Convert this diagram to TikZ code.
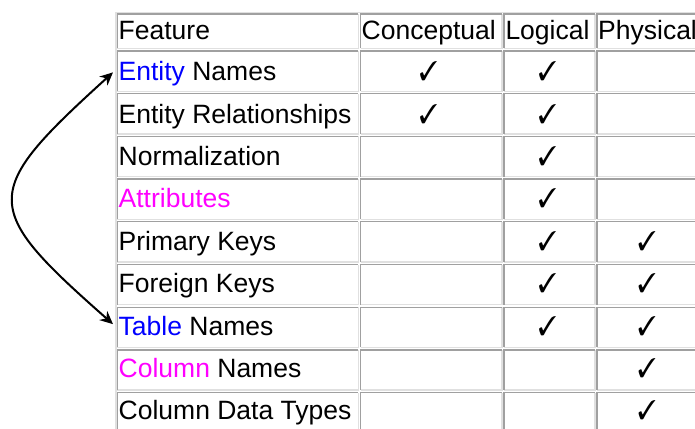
\documentclass[tikz,border=0pt]{standalone}
\usepackage{fontspec}
\setmainfont{Liberation Sans}
\usepackage{pifont}
\usetikzlibrary{arrows.meta}
\definecolor{bdark}{HTML}{A0A0A0}
\definecolor{blight}{HTML}{E0E0E0}
\definecolor{linkblue}{HTML}{0000FF}
\definecolor{mag}{HTML}{FF00FF}
\newcommand\cellbox[4]{%
  \draw[blight, line width=1.3pt] (#1,#4) -- (#3,#4) -- (#3,#2);
  \draw[bdark, line width=1.3pt] (#1,#4) -- (#1,#2) -- (#3,#2);}
\begin{document}
\begin{tikzpicture}[x=1pt,y=-1pt,
  txt/.style={anchor=base west,inner sep=0pt,font=\fontsize{26.5}{30}\selectfont},
  chk/.style={anchor=base,inner sep=0pt,font=\fontsize{27}{30}\selectfont,xscale=0.9},
  link/.style={line width=2pt,{Stealth[length=13pt,width=12pt]}-{Stealth[length=13pt,width=12pt]}}]
\useasboundingbox[fill=white] (0,0) rectangle (695,428);
% outer table border
\draw[blight, line width=1.3pt] (116,440) -- (116,12.7) -- (700,12.7);
% cells
\foreach \l/\r in {117.3/358.3, 360.7/502, 504/595, 597/699}{
  \cellbox{\l}{14}{\r}{48.5}
  \foreach \k in {0,...,8}{
    \pgfmathsetmacro\tp{51+42.7*\k}
    \pgfmathsetmacro\bt{51+42.7*(\k+1)-2.5}
    \cellbox{\l}{\tp}{\r}{\bt}
  }
}
% header texts
\node[txt] (hf) at (118.5,39.3) {Feature};
\node[txt] (hc) at (361.5,39.3) {Conceptual};
\node[txt] (hl) at (505.3,39.3) {Logical};
\node[txt] (hp) at (598,39.3) {Physical};
% row texts
\node[txt] (en) at (118.5,80.7) {\textcolor{linkblue}{Entity} Names};
\node[txt] (er) at (118.5,123.1) {Entity Relationships};
\node[txt] (nm) at (118.5,165.5) {Normalization};
\node[txt] (at) at (118.5,207.9) {\textcolor{mag}{Attributes}};
\node[txt] (pk) at (118.5,250.3) {Primary Keys};
\node[txt] (fk) at (118.5,292.7) {Foreign Keys};
\node[txt] (tn) at (118.5,335.1) {\textcolor{linkblue}{Table} Names};
\node[txt] (cn) at (118.5,377.5) {\textcolor{mag}{Column} Names};
\node[txt] (ct) at (118.5,419.9) {Column Data Types};
% checks
\foreach \n/\x/\y in {c1/428.5/80.7, c2/547.5/80.7,
  c3/428.5/123.1, c4/547.5/123.1,
  c5/547.5/165.5, c6/547.5/207.9,
  c7/547.5/250.3, c8/647/250.3,
  c9/547.5/292.7, c10/647/292.7,
  c11/547.5/335.1, c12/647/335.1,
  c13/647/377.5, c14/647/419.9}{
  \node[chk] (\n) at (\x,\y) {\ding{51}};
}
% curved double arrow
\draw[link] ([xshift=-5.5pt,yshift=1.5pt]en.west) .. controls (-20,193) and (-20,207) .. ([xshift=-5.5pt,yshift=1.5pt]tn.west);
\end{tikzpicture}
\end{document}
